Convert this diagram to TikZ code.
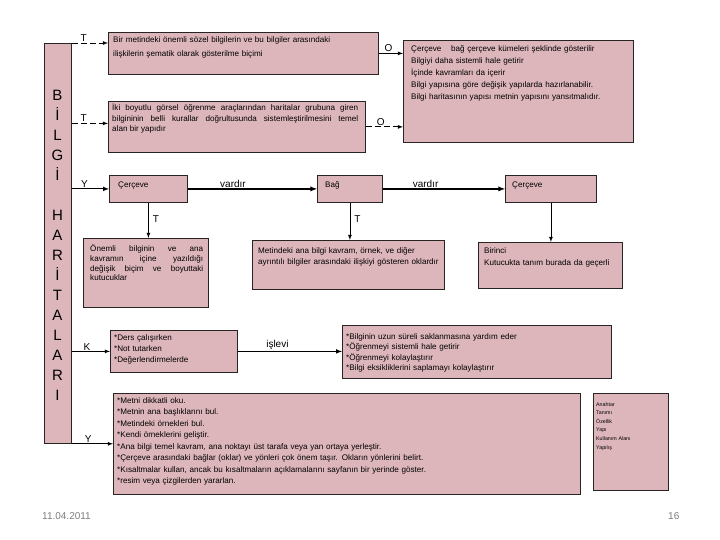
\documentclass[tikz,border=0pt]{standalone}
\usepackage{fontspec}
\setmainfont{Liberation Sans}
\definecolor{pembe}{RGB}{221,182,187}
\definecolor{cerceve}{RGB}{40,36,36}
\definecolor{gri}{RGB}{125,125,125}
\begin{document}
\begin{tikzpicture}[x=1pt,y=-1pt,>=latex,
  kutu/.style={draw=cerceve,fill=pembe,line width=0.8pt,inner sep=0pt,anchor=north west},
  yazi/.style={anchor=base west,inner sep=0pt,align=left,font=\fontsize{8.1}{10.5}\selectfont},
  etiket/.style={font=\fontsize{10}{12}\selectfont,inner sep=1pt},
  ok/.style={->,line width=0.8pt},
  kesik/.style={dash pattern=on 6pt off 3pt}]
\useasboundingbox[fill=white] (0,0) rectangle (720,540);
% sol sutun
\node[kutu,minimum width=27pt,minimum height=400pt] (bar) at (44,43) {};
\node[align=center,inner sep=0pt,font=\fontsize{15}{20}\selectfont] (baslik) at (57.5,245) {B\\İ\\L\\G\\İ\\[20pt]H\\A\\R\\İ\\T\\A\\L\\A\\R\\I};
% kutular
\node[kutu,minimum width=270pt,minimum height=42pt] (tanim) at (108,32) {};
\node[yazi,text width=262pt,font=\fontsize{8.1}{14}\selectfont] (tanimy) at (113,43) {Bir metindeki önemli sözel bilgilerin ve bu bilgiler arasındaki\\ilişkilerin şematik olarak gösterilme biçimi};
\node[kutu,minimum width=257pt,minimum height=51pt] (iki) at (108,101) {};
\node[yazi,text width=246pt,align=justify] (ikiy) at (112,111) {İki boyutlu görsel öğrenme araçlarından haritalar grubuna giren\linebreak bilgininin belli kurallar doğrultusunda sistemleştirilmesini temel\linebreak alan bir yapıdır};
\node[kutu,minimum width=230pt,minimum height=102pt] (ozet) at (403,40) {};
\node[yazi,text width=220pt,font=\fontsize{8.1}{12}\selectfont] (ozety) at (411,51.5) {Çerçeve\hspace{1.2em}bağ çerçeve kümeleri şeklinde gösterilir\\Bilgiyi daha sistemli hale getirir\\İçinde kavramları da içerir\\Bilgi yapısına göre değişik yapılarda hazırlanabilir.\\Bilgi haritasının yapısı metnin yapısını yansıtmalıdır.};
\node[kutu,minimum width=78pt,minimum height=27pt] (cer1) at (109,175) {};
\node[yazi] (cer1y) at (118,188) {Çerçeve};
\node[kutu,minimum width=65pt,minimum height=27pt] (bag) at (317,175) {};
\node[yazi] (bagy) at (325,188) {Bağ};
\node[kutu,minimum width=91pt,minimum height=27pt] (cer2) at (505,175) {};
\node[yazi] (cer2y) at (512,188) {Çerçeve};
\node[kutu,minimum width=125pt,minimum height=69pt] (kutucuk) at (83,238) {};
\node[yazi,text width=113pt,align=justify,font=\fontsize{8.1}{9.8}\selectfont] (kutucuky) at (90,251.5) {Önemli bilginin ve ana\linebreak kavramın içine yazıldığı\linebreak değişik biçim ve boyuttaki\linebreak kutucuklar};
\node[kutu,minimum width=192pt,minimum height=49pt] (oklar) at (252,240) {};
\node[yazi,text width=188pt,font=\fontsize{8.1}{11}\selectfont] (oklary) at (258,253.5) {Metindeki ana bilgi kavram, örnek, ve diğer\\ayrıntılı bilgiler arasındaki ilişkiyi gösteren oklardır};
\node[kutu,minimum width=144pt,minimum height=46pt] (birinci) at (478,242) {};
\node[yazi,text width=135pt,font=\fontsize{8.1}{12.5}\selectfont] (birinciy) at (484,253) {Birinci\\Kutucukta tanım burada da geçerli};
\node[kutu,minimum width=127pt,minimum height=42pt] (nerede) at (110,330) {};
\node[yazi,text width=120pt,font=\fontsize{8.1}{11}\selectfont] (nerediy) at (114,340.5) {*Ders çalışırken\\{}*Not tutarken\\{}*Değerlendirmelerde};
\node[kutu,minimum width=269pt,minimum height=53pt] (islev) at (342,325) {};
\node[yazi,text width=260pt] (islevy) at (346,339) {*Bilginin uzun süreli saklanmasına yardım eder\\{}*Öğrenmeyi sistemli hale getirir\\{}*Öğrenmeyi kolaylaştırır\\{}*Bilgi eksikliklerini saplamayı kolaylaştırır};
\node[kutu,minimum width=467pt,minimum height=101pt] (adim) at (113,393) {};
\node[yazi,text width=460pt,font=\fontsize{8.1}{11.5}\selectfont] (adimy) at (117,403) {*Metni dikkatli oku.\\{}*Metnin ana başlıklarını bul.\\{}*Metindeki örnekleri bul.\\{}*Kendi örneklerini geliştir.\\{}*Ana bilgi temel kavram, ana noktayı üst tarafa veya yan ortaya yerleştir.\\{}*Çerçeve arasındaki bağlar (oklar) ve yönleri çok önem taşır. Okların yönlerini belirt.\\{}*Kısaltmalar kullan, ancak bu kısaltmaların açıklamalarını sayfanın bir yerinde göster.\\{}*resim veya çizgilerden yararlan.};
\node[kutu,minimum width=75pt,minimum height=97pt] (anahtar) at (593,393) {};
\node[yazi,text width=70pt,font=\fontsize{5.3}{8.6}\selectfont] (anahtary) at (596,406) {Anahtar\\Tanımı\\Özellik\\Yapı\\Kullanım Alanı\\Yapılış};
% oklar
\coordinate (t2) at ([yshift=3.5pt]iki.west);
\draw[ok,kesik] (bar.north east) -- (bar.north east -| tanim.west) node[etiket,pos=0.33,above] (lt1) {T};
\draw[ok,kesik] (bar.east |- t2) -- (t2) node[etiket,pos=0.33,above] (lt2) {T};
\draw[ok,line width=1pt] (bar.east |- cer1.west) -- (cer1.west) node[etiket,pos=0.34,above] (ly1) {Y};
\draw[ok] (bar.east |- nerede.west) -- (nerede.west) node[etiket,pos=0.4,above] (lk) {K};
\draw[ok] (bar.south east) -- (bar.south east -| adim.west) node[etiket,pos=0.4,above] (ly2) {Y};
\draw[ok] (tanim.east) -- (tanim.east -| ozet.west) node[etiket,pos=0.4,above] (lo1) {O};
\draw[ok,kesik] (iki.east) -- (iki.east -| ozet.west) node[etiket,pos=0.4,above] (lo2) {O};
\draw[ok,line width=1.3pt] (cer1.east) -- (bag.west) node[etiket,pos=0.35,above] (lv1) {vardır};
\draw[ok,line width=1.3pt] (bag.east) -- (cer2.west) node[etiket,pos=0.35,above] (lv2) {vardır};
\draw[ok] (cer1.south) -- (cer1.south |- kutucuk.north) node[etiket,pos=0.45,right=3pt] (lt3) {T};
\draw[ok] (bag.south) -- (bag.south |- oklar.north) node[etiket,pos=0.45,right=3pt] (lt4) {T};
\draw[ok] (cer2.south) -- (cer2.south |- birinci.north);
\draw[ok,line width=1pt] (nerede.east) -- (nerede.east -| islev.west) node[etiket,pos=0.38,above] (li) {işlevi};
% alt bilgi
\node[anchor=base west,inner sep=0pt,text=gri,font=\fontsize{10}{12}\selectfont] (tarih) at (42,519) {11.04.2011};
\node[anchor=base west,inner sep=0pt,text=gri,font=\fontsize{10}{12}\selectfont] (sayfa) at (668,519) {16};
\end{tikzpicture}
\end{document}
